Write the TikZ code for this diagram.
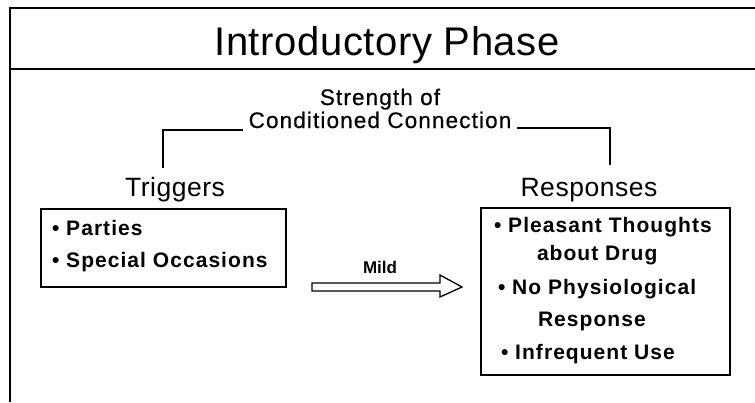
\documentclass[tikz,border=0pt]{standalone}
\usepackage{fontspec}
\setmainfont{Liberation Sans}
\newfontfamily\titlefont{Liberation Sans}[LetterSpace=1.5]
\newfontfamily\labelfont{Liberation Sans}[LetterSpace=5,FakeBold=0.5]
\newfontfamily\headfont{Liberation Sans}[LetterSpace=2]
\newfontfamily\itemfont{Liberation Sans}[LetterSpace=5]
\begin{document}
\begin{tikzpicture}[x=1pt,y=-1pt,
  frameline/.style={line width=2.4pt},
  boxline/.style={line width=1.4pt},
  bracket/.style={line width=1.1pt},
  txt/.style={inner sep=0pt,outer sep=0pt},
  title/.style={txt,anchor=base,font=\titlefont\fontsize{40}{44}\selectfont},
  caption/.style={txt,anchor=base,font=\labelfont\fontsize{22.5}{26}\selectfont},
  heading/.style={txt,anchor=base,font=\headfont\fontsize{26.5}{30}\selectfont},
  item/.style={txt,anchor=base west,font=\itemfont\bfseries\fontsize{21}{25}\selectfont},
  arrowlabel/.style={txt,anchor=base,font=\bfseries\fontsize{17}{20}\selectfont}]
\useasboundingbox (0,0) rectangle (755,402);

% outer frame and title band
\draw[frameline] (755,8) -- (10,8) -- (10,402);
\draw[frameline] (10,69) -- (755,69);
\node[title] (ttl) at (387,55) {Introductory Phase};

% strength label with its two brackets
\node[caption] (str) at (380,105) {Strength of};
\node[caption] (cc) at (380,128) {Conditioned Connection};
\coordinate (lb) at (163,168);
\coordinate (rb) at (610,165);
\draw[bracket] ([xshift=-6pt,yshift=-2pt]cc.base west) -| (lb);
\draw[bracket] ([xshift=6pt,yshift=0pt]cc.base east) -| (rb);

% headings
\node[heading] (trig) at (175,196) {Triggers};
\node[heading] (resp) at (589,196) {Responses};

% trigger box
\draw[boxline] (41,209) rectangle (286,287);
\node[item] (t1) at (52,235) {• Parties};
\node[item] (t2) at (52,267) {• Special Occasions};

% response box
\draw[boxline] (481,208) rectangle (730,375);
\node[item] (r1) at (494,232) {• Pleasant Thoughts};
\node[item] (r2) at (537,260) {about Drug};
\node[item] (r3) at (498,294) {• No Physiological};
\node[item] (r4) at (538,326) {Response};
\node[item] (r5) at (501,359) {• Infrequent Use};

% hollow block arrow
\coordinate (as) at (312,287);
\coordinate (ah) at (440,287);
\coordinate (at) at (462,287);
\draw[line width=1.3pt,line join=miter]
  ([yshift=4pt]as) -- ([yshift=4pt]ah) -- ([yshift=12pt]ah) -- (at)
  -- ([yshift=-10pt]ah) -- ([yshift=-4pt]ah) -- ([yshift=-4pt]as) -- cycle;
\node[arrowlabel] (mild) at (380,273) {Mild};
\end{tikzpicture}
\end{document}
